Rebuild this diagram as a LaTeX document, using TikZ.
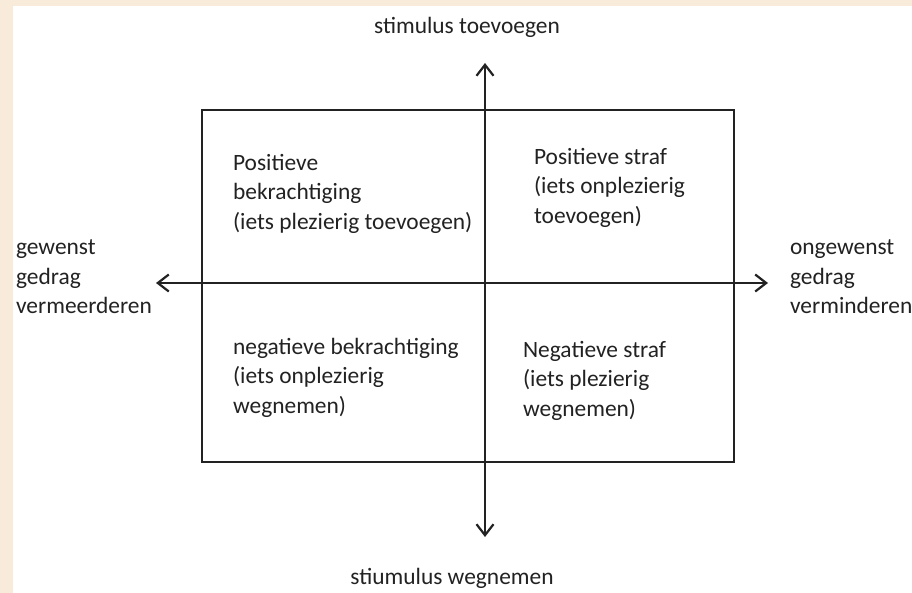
\documentclass[tikz,border=0pt]{standalone}
\usepackage{fontspec}
\setmainfont{Carlito}
\usetikzlibrary{arrows.meta,positioning}
\definecolor{cream}{HTML}{F8EBD9}
\definecolor{ink}{HTML}{222222}

\begin{document}
\begin{tikzpicture}[x=1bp,y=-1bp,line width=2.2bp,draw=ink,
		>={Straight Barb[length=11bp,width=17bp,line width=2.2bp]},
		label/.style={text=ink,inner sep=0pt,align=left,
			font=\fontsize{23.5}{29.5}\selectfont}]
				\fill[cream] (0,0) rectangle (912,593);
				\fill[white] (13,6) rectangle (912,593);
				\useasboundingbox (0,0) rectangle (912,593);
				
				% kader met vier kwadranten
				\node[draw,line width=2.8bp,minimum width=532bp,minimum height=352bp,
					inner sep=0pt] (kader) at (468,286) {};
				
				\coordinate (links) 	at (156,283);
				\coordinate (rechts) 	at (768,283);
				\coordinate (boven) 	at (485,63);
				\coordinate (onder) 	at (485,537);
				
				\draw[<->] (links) -- (rechts);
				\draw[<->] (boven) -- (onder);
				
				% assen
				\node[label] (toevoegen) 	at (467,27) 	{stimulus toevoegen};
				\node[label] (wegnemen) 	at (452,578) 	{stiumulus wegnemen};
				\node[label,anchor=west] (gewenst) 	at (15,277) 	{gewenst\\gedrag\\vermeerderen};
				\node[label,anchor=west] (ongewenst) 	at (789,277) 	{ongewenst\\gedrag\\verminderen};
				
				% kwadranten
				\node[label,anchor=north west] (posbekr) 	at (232,153) 	{Positieve\\bekrachtiging\\(iets plezierig toevoegen)};
				\node[label,anchor=north west] (posstraf) 	at (533,147) 	{Positieve straf\\(iets onplezierig\\toevoegen)};
				\node[label,anchor=north west] (negbekr) 	at (232,337) 	{negatieve bekrachtiging\\(iets onplezierig\\wegnemen)};
				\node[label,anchor=north west] (negstraf) 	at (522,340) 	{Negatieve straf\\(iets plezierig\\wegnemen)};
			\end{tikzpicture}
\end{document}
